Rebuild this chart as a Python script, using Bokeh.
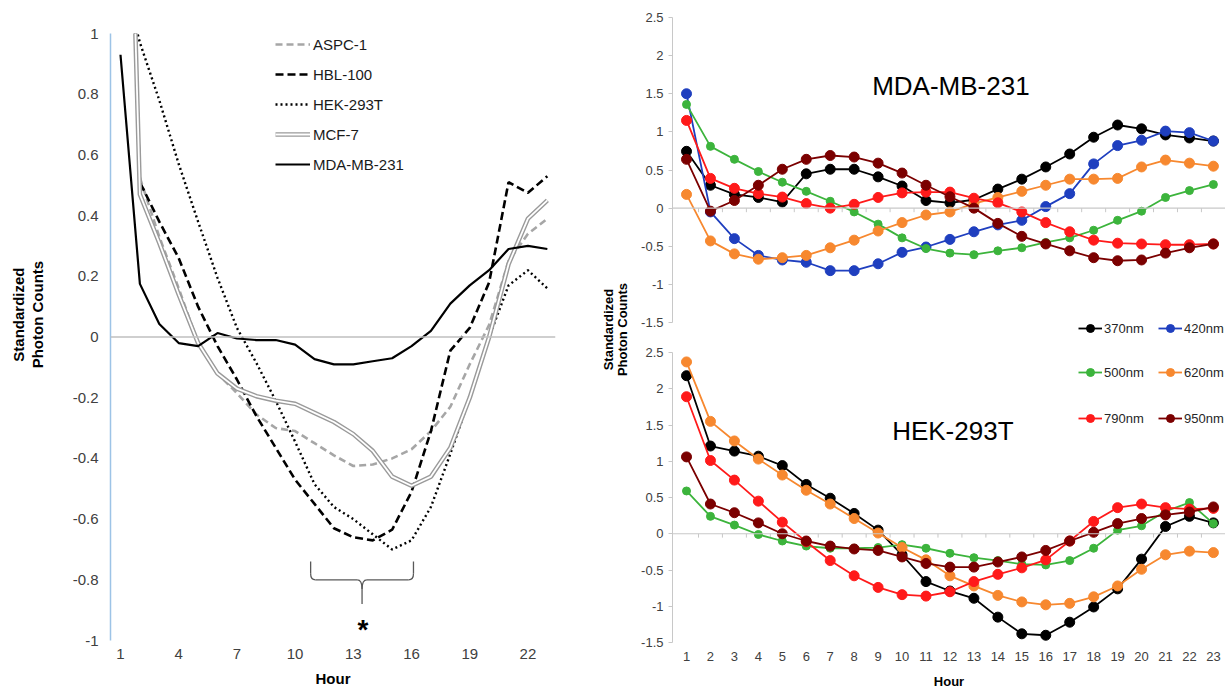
import math
from bokeh.plotting import figure
from bokeh.layouts import row, column
from bokeh.models import Span, Legend, LegendItem, FixedTicker, Range1d, Label
from bokeh.core.properties import value
from bokeh.embed import file_html
from bokeh.resources import INLINE

FONT = "Liberation Sans"

# ---------------- data: left panel (cell lines) ----------------
hours = list(range(1, 24))
left_ticks = [1, 4, 7, 10, 13, 16, 19, 22]
aspc1 = [2.59, 0.525, 0.33, 0.16, -0.02, -0.12, -0.185, -0.255, -0.30, -0.31, -0.35, -0.39,
         -0.425, -0.42, -0.40, -0.37, -0.31, -0.23, -0.09, 0.04, 0.25, 0.34, 0.39]
hbl100 = [2.6, 0.51, 0.38, 0.26, 0.10, -0.03, -0.14, -0.26, -0.365, -0.47, -0.55, -0.63,
          -0.66, -0.67, -0.635, -0.51, -0.31, -0.045, 0.03, 0.18, 0.51, 0.475, 0.53]
hek293t = [1.22, 0.97, 0.78, 0.57, 0.38, 0.195, 0.03, -0.085, -0.21, -0.345, -0.485, -0.56,
           -0.60, -0.65, -0.70, -0.67, -0.56, -0.385, -0.20, 0.0, 0.17, 0.22, 0.16]
mcf7 = [2.77, 0.47, 0.31, 0.14, -0.02, -0.12, -0.17, -0.195, -0.21, -0.22, -0.25, -0.28,
        -0.32, -0.375, -0.46, -0.49, -0.46, -0.365, -0.20, 0.0, 0.24, 0.39, 0.45]
mdamb231 = [0.93, 0.175, 0.043, -0.02, -0.03, 0.013, -0.005, -0.01, -0.01, -0.025, -0.073, -0.09,
            -0.09, -0.08, -0.07, -0.03, 0.02, 0.11, 0.17, 0.22, 0.29, 0.30, 0.29]
left_yticks = [1, 0.8, 0.6, 0.4, 0.2, 0, -0.2, -0.4, -0.6, -0.8, -1]

# ---------------- data: right panels (wavelengths) ----------------
wavelengths = ["370nm", "420nm", "500nm", "620nm", "790nm", "950nm"]
mda = {
    "370nm": [0.745, 0.30, 0.18, 0.14, 0.08, 0.45, 0.51, 0.51, 0.41, 0.29, 0.10, 0.07,
              0.11, 0.25, 0.38, 0.54, 0.71, 0.93, 1.09, 1.04, 0.96, 0.92, 0.88],
    "420nm": [1.50, -0.05, -0.40, -0.62, -0.68, -0.71, -0.82, -0.82, -0.73, -0.58, -0.51, -0.41,
              -0.31, -0.22, -0.16, 0.02, 0.19, 0.58, 0.82, 0.89, 1.01, 0.99, 0.88],
    "500nm": [1.36, 0.81, 0.64, 0.48, 0.34, 0.22, 0.09, -0.05, -0.21, -0.39, -0.53, -0.59,
              -0.61, -0.56, -0.52, -0.45, -0.39, -0.29, -0.16, -0.04, 0.14, 0.23, 0.31],
    "620nm": [0.18, -0.43, -0.60, -0.67, -0.65, -0.62, -0.52, -0.42, -0.30, -0.19, -0.09, -0.05,
              0.06, 0.14, 0.22, 0.30, 0.38, 0.38, 0.39, 0.54, 0.63, 0.59, 0.55],
    "790nm": [1.15, 0.39, 0.26, 0.19, 0.145, 0.06, 0.0, 0.05, 0.14, 0.20, 0.21, 0.21,
              0.13, 0.07, -0.05, -0.19, -0.31, -0.42, -0.46, -0.47, -0.48, -0.48, -0.47],
    "950nm": [0.64, -0.04, 0.10, 0.30, 0.51, 0.64, 0.69, 0.67, 0.59, 0.46, 0.30, 0.15,
              0.0, -0.20, -0.37, -0.47, -0.56, -0.65, -0.69, -0.68, -0.59, -0.52, -0.47],
}
hek = {
    "370nm": [2.18, 1.21, 1.14, 1.07, 0.94, 0.68, 0.49, 0.28, 0.05, -0.29, -0.66, -0.79,
              -0.89, -1.15, -1.38, -1.40, -1.22, -1.01, -0.76, -0.35, 0.10, 0.24, 0.15],
    "500nm": [0.59, 0.24, 0.12, -0.01, -0.10, -0.17, -0.20, -0.20, -0.19, -0.15, -0.20, -0.27,
              -0.33, -0.37, -0.42, -0.43, -0.37, -0.20, 0.05, 0.11, 0.31, 0.43, 0.14],
    "620nm": [2.37, 1.55, 1.28, 1.03, 0.81, 0.60, 0.41, 0.21, 0.01, -0.19, -0.36, -0.58,
              -0.72, -0.85, -0.94, -0.98, -0.96, -0.87, -0.72, -0.49, -0.29, -0.24, -0.26],
    "790nm": [1.89, 1.01, 0.74, 0.45, 0.16, -0.11, -0.37, -0.58, -0.74, -0.84, -0.86, -0.80,
              -0.66, -0.56, -0.47, -0.36, -0.10, 0.17, 0.36, 0.41, 0.36, 0.34, 0.35],
    "950nm": [1.06, 0.41, 0.29, 0.15, 0.0, -0.10, -0.17, -0.21, -0.23, -0.32, -0.41, -0.46,
              -0.46, -0.39, -0.32, -0.23, -0.10, 0.02, 0.14, 0.21, 0.26, 0.30, 0.37],
}
right_yticks = [2.5, 2, 1.5, 1, 0.5, 0, -0.5, -1, -1.5]
colors = {"370nm": "#000000", "420nm": "#1f3fbf", "500nm": "#3cb43c",
          "620nm": "#f7882f", "790nm": "#ff1a1a", "950nm": "#7b0000"}
msize = {"370nm": 10, "420nm": 10, "500nm": 8, "620nm": 10, "790nm": 10, "950nm": 10}


def fmt(v):
    return ("%g" % v)


TXT = "#404040"
H = 691

# ---------------- left label figure ----------------
lab_l = figure(width=52, height=H, x_range=Range1d(0, 52), y_range=Range1d(0, H),
               output_backend="svg", toolbar_location=None, min_border=0)
lab_l.axis.visible = False
lab_l.grid.visible = False
lab_l.outline_line_color = None
lab_l.text(x=[18, 37], y=[H - 320, H - 320], text=["Standardized", "Photon Counts"], angle=math.pi / 2,
           text_align="center", text_baseline="middle", text_font=value(FONT),
           text_font_size="15px", text_font_style="bold", text_color="#000000")

# ---------------- left chart ----------------
p1 = figure(width=546, height=H, x_range=Range1d(0.485, 23.42), y_range=Range1d(-1, 1),
            output_backend="svg", toolbar_location=None,
            min_border_left=58, min_border_right=43, min_border_top=33, min_border_bottom=51)
p1.grid.visible = False
p1.outline_line_color = None
p1.yaxis.ticker = FixedTicker(ticks=left_yticks)
p1.yaxis.major_label_overrides = {v: fmt(v) for v in left_yticks}
p1.yaxis.axis_line_color = "#9dc3e6"
p1.yaxis.axis_line_width = 1.5
p1.yaxis.major_tick_line_color = None
p1.yaxis.minor_tick_line_color = None
p1.yaxis.major_tick_out = 0
p1.yaxis.major_label_standoff = 12
p1.xaxis.ticker = FixedTicker(ticks=left_ticks)
p1.xaxis.axis_line_color = None
p1.xaxis.major_tick_line_color = None
p1.xaxis.minor_tick_line_color = None
p1.xaxis.major_tick_out = 0
p1.xaxis.major_label_standoff = 8
p1.xaxis.axis_label = "Hour"
p1.xaxis.axis_label_standoff = 8
for ax in (p1.xaxis, p1.yaxis):
    ax.major_label_text_font = FONT
    ax.major_label_text_font_size = "15px"
    ax.major_label_text_color = TXT
p1.xaxis.axis_label_text_font = FONT
p1.xaxis.axis_label_text_font_size = "15px"
p1.xaxis.axis_label_text_font_style = "bold"
p1.xaxis.axis_label_text_color = "#000000"

p1.add_layout(Span(location=0, dimension="width", line_color="#bfbfbf", line_width=1.3))

r_aspc = p1.line(hours, aspc1, line_color="#a6a6a6", line_width=2.6, line_dash="7 4")
r_hbl = p1.line(hours, hbl100, line_color="#000000", line_width=2.6, line_dash="8 4")
r_hek = p1.line(hours, hek293t, line_color="#000000", line_width=2.4, line_dash="2 3")
r_mcf_a = p1.line(hours, mcf7, line_color="#9a9a9a", line_width=4.6)
r_mcf_b = p1.line(hours, mcf7, line_color="#ffffff", line_width=1.8)
r_mda = p1.line(hours, mdamb231, line_color="#000000", line_width=2.2)

# bracket with asterisk (hours 11-16 window)
br_l, br_r, br_c = 10.8, 16.1, 13.45
br_top, br_mid, br_tip = -0.74, -0.80, -0.88
bcol = "#595959"
p1.segment(x0=[br_l, br_r, br_l + 0.25, br_c + 0.25, br_c], y0=[br_top, br_top, br_mid, br_mid, br_mid - 0.03],
           x1=[br_l, br_r, br_c - 0.25, br_r - 0.25, br_c], y1=[br_mid + 0.02, br_mid + 0.02, br_mid, br_mid, br_tip],
           line_color=bcol, line_width=1.3)
p1.quadratic(x0=[br_l, br_r, br_c - 0.25, br_c + 0.25], y0=[br_mid + 0.02, br_mid + 0.02, br_mid, br_mid],
             x1=[br_l + 0.25, br_r - 0.25, br_c, br_c], y1=[br_mid, br_mid, br_mid - 0.03, br_mid - 0.03],
             cx=[br_l, br_r, br_c, br_c], cy=[br_mid, br_mid, br_mid, br_mid],
             line_color=bcol, line_width=1.3)
p1.text(x=[br_c + 0.05], y=[-0.965], text=["*"], text_align="center", text_baseline="middle",
        text_font=value(FONT), text_font_size="28px", text_font_style="bold", text_color="#000000")

leg1 = Legend(items=[LegendItem(label="ASPC-1", renderers=[r_aspc]),
                     LegendItem(label="HBL-100", renderers=[r_hbl]),
                     LegendItem(label="HEK-293T", renderers=[r_hek]),
                     LegendItem(label="MCF-7", renderers=[r_mcf_a, r_mcf_b]),
                     LegendItem(label="MDA-MB-231", renderers=[r_mda])],
              location=(165, 466), glyph_width=35, glyph_height=20, label_height=20,
              label_standoff=3, spacing=10, padding=0, margin=0,
              border_line_color=None, background_fill_alpha=0,
              label_text_font=FONT, label_text_font_size="15px", label_text_color="#1a1a1a")
p1.add_layout(leg1)

# ---------------- right label figure ----------------
lab_r = figure(width=36, height=H, x_range=Range1d(0, 36), y_range=Range1d(0, H),
               output_backend="svg", toolbar_location=None, min_border=0)
lab_r.axis.visible = False
lab_r.grid.visible = False
lab_r.outline_line_color = None
lab_r.text(x=[10, 24], y=[H - 337, H - 337], text=["Standardized", "Photon Counts"], angle=math.pi / 2,
           text_align="center", text_baseline="middle", text_font=value(FONT),
           text_font_size="13px", text_font_style="bold", text_color="#000000")


# ---------------- right charts ----------------
def right_fig(height, top, bottom, show_x, ystart):
    p = figure(width=591, height=height, x_range=Range1d(0.415, 23.505), y_range=Range1d(ystart, 2.5),
               output_backend="svg", toolbar_location=None,
               min_border_left=38, min_border_right=0, min_border_top=top, min_border_bottom=bottom)
    p.grid.visible = False
    p.outline_line_color = None
    p.yaxis.ticker = FixedTicker(ticks=right_yticks)
    p.yaxis.bounds = (-1.5, 2.5)
    p.yaxis.major_label_overrides = {v: fmt(v) for v in right_yticks}
    p.yaxis.axis_line_color = "#c8c8c8"
    p.yaxis.major_tick_line_color = "#c8c8c8"
    p.yaxis.minor_tick_line_color = None
    p.yaxis.major_tick_in = 0
    p.yaxis.major_tick_out = 4
    p.yaxis.major_label_standoff = 5
    p.yaxis.major_label_text_font = FONT
    p.yaxis.major_label_text_font_size = "13px"
    p.yaxis.major_label_text_color = TXT
    if show_x:
        p.xaxis.ticker = FixedTicker(ticks=hours)
        p.xaxis.axis_line_color = None
        p.xaxis.major_tick_line_color = None
        p.xaxis.minor_tick_line_color = None
        p.xaxis.major_tick_out = 0
        p.xaxis.major_label_standoff = 9
        p.xaxis.major_label_text_font = FONT
        p.xaxis.major_label_text_font_size = "13px"
        p.xaxis.major_label_text_color = TXT
        p.xaxis.axis_label = "Hour"
        p.xaxis.axis_label_standoff = 10
        p.xaxis.axis_label_text_font = FONT
        p.xaxis.axis_label_text_font_size = "13px"
        p.xaxis.axis_label_text_font_style = "bold"
        p.xaxis.axis_label_text_color = "#000000"
    else:
        p.xaxis.visible = False
    p.add_layout(Span(location=0, dimension="width", line_color="#c8c8c8", line_width=1.2))
    half = [h + 0.5 for h in hours[:-1]]
    tick_len = 4.0 / 75.0
    p.segment(x0=half, y0=[0] * len(half), x1=half, y1=[-tick_len] * len(half),
              line_color="#c8c8c8", line_width=1)
    return p


# top chart: frame runs down to the canvas bottom so its legend row is not clipped
p2 = right_fig(338, 17, 0, False, -1.5 - 16 / 76.25)
p3 = right_fig(353, 14, 47, True, -1.5)

rend2 = {}
for w in wavelengths:
    rl = p2.line(hours, mda[w], line_color=colors[w], line_width=1.8)
    rs = p2.scatter(hours, mda[w], size=msize[w], fill_color=colors[w], line_color=colors[w])
    rend2[w] = [rl, rs]

rend3 = {}
for w in wavelengths:
    if w in hek:
        rl = p3.line(hours, hek[w], line_color=colors[w], line_width=1.8)
        rs = p3.scatter(hours, hek[w], size=msize[w], fill_color=colors[w], line_color=colors[w])
        rend3[w] = [rl, rs]


def legend_at(fig, w, rends, x, y):
    fig.add_layout(Legend(items=[LegendItem(label=w, renderers=rends)],
                          location=(x, y), glyph_width=24, glyph_height=20, label_height=20,
                          label_standoff=2, padding=0, margin=0,
                          border_line_color=None, background_fill_alpha=0,
                          label_text_font=FONT, label_text_font_size="13px",
                          label_text_color="#262626"))


col_x = [1078 - 672, 1158 - 672]
# row 1 (bottom strip of the top chart), rows 2-3 (in bottom chart)
legend_at(p2, "370nm", rend2["370nm"], col_x[0], 0)
legend_at(p2, "420nm", rend2["420nm"], col_x[1], 0)
legend_at(p3, "500nm", rend3["500nm"], col_x[0], 644 - 384)
legend_at(p3, "620nm", rend3["620nm"], col_x[1], 644 - 384)
legend_at(p3, "790nm", rend3["790nm"], col_x[0], 644 - 430)
legend_at(p3, "950nm", rend3["950nm"], col_x[1], 644 - 430)

p2.add_layout(Label(x=12.04, y=1.6, text="MDA-MB-231", text_align="center", text_baseline="middle",
                    text_font=FONT, text_font_size="26px", text_color="#000000"))
p3.add_layout(Label(x=12.12, y=1.42, text="HEK-293T", text_align="center", text_baseline="middle",
                    text_font=FONT, text_font_size="26px", text_color="#000000"))

layout = row(lab_l, p1, lab_r, column(p2, p3))
open("out.html", "w").write(file_html(layout, INLINE))
